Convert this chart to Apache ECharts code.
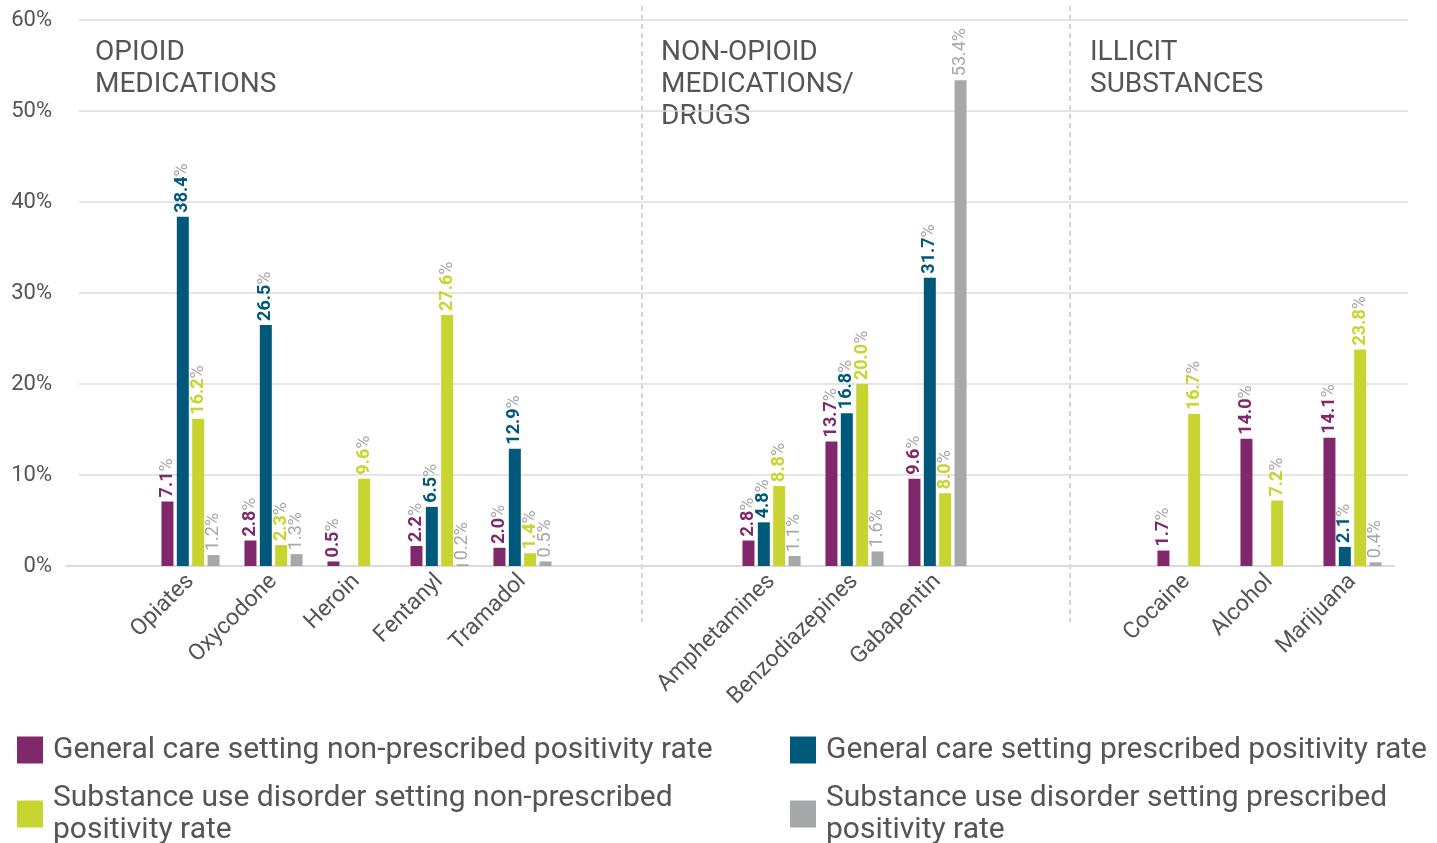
<!DOCTYPE html>
<html>
<head>
<meta charset="utf-8">
<script src="https://cdn.jsdelivr.net/npm/echarts@6/dist/echarts.min.js"></script>
<style>
  html, body { margin: 0; padding: 0; background: #fff; }
  #main { width: 1437px; height: 843px; }
</style>
</head>
<body>
<div id="main"></div>
<script>
// empty slots keep the three sections apart
var categories = ['', 'Opiates', 'Oxycodone', 'Heroin', 'Fentanyl', 'Tramadol', '', '',
    'Amphetamines', 'Benzodiazepines', 'Gabapentin', '', '', 'Cocaine', 'Alcohol', 'Marijuana'];

var generalNonPrescribed = [null, 7.1, 2.8, 0.5, 2.2, 2.0, null, null, 2.8, 13.7, 9.6, null, null, 1.7, 14.0, 14.1];
var generalPrescribed    = [null, 38.4, 26.5, null, 6.5, 12.9, null, null, 4.8, 16.8, 31.7, null, null, null, null, 2.1];
var sudNonPrescribed     = [null, 16.2, 2.3, 9.6, 27.6, 1.4, null, null, 8.8, 20.0, 8.0, null, null, 16.7, 7.2, 23.8];
var sudPrescribed        = [null, 1.2, 1.3, null, 0.2, 0.5, null, null, 1.1, 1.6, 53.4, null, null, null, null, 0.4];

var seriesNames = [
    'General care setting non-prescribed positivity rate',
    'General care setting prescribed positivity rate',
    'Substance use disorder setting non-prescribed positivity rate',
    'Substance use disorder setting prescribed positivity rate'
];
var sectionTitles = ['OPIOID\nMEDICATIONS', 'NON-OPIOID\nMEDICATIONS/\nDRUGS', 'ILLICIT\nSUBSTANCES'];
var yMax = 60, yStep = 10;

var colors = ['#80286b', '#00587b', '#c8d42f', '#a7a8aa'];
var textGrey = '#555';
var font = 'Roboto';

function barSeries(idx, data, boldValue) {
    var c = colors[idx];
    return {
        name: seriesNames[idx],
        type: 'bar',
        xAxisIndex: 0,
        yAxisIndex: 0,
        data: data,
        barWidth: 12,
        barGap: '28%',
        itemStyle: { color: c },
        label: {
            show: true,
            position: 'top',
            rotate: 90,
            align: 'left',
            verticalAlign: 'middle',
            distance: 4,
            formatter: function (p) {
                if (p.value == null) return '';
                return '{v|' + Number(p.value).toFixed(1) + '}{p|%}';
            },
            rich: {
                v: { color: c, fontSize: 18, fontFamily: font, fontWeight: boldValue ? 'bold' : 'normal' },
                p: { color: '#a7a8aa', fontSize: 18, fontFamily: font }
            }
        }
    };
}

var legendBase = {
    orient: 'horizontal',
    padding: 0,
    icon: 'rect',
    itemWidth: 26,
    itemHeight: 27,
    selectedMode: false,
    textStyle: { fontFamily: font, fontSize: 30, color: textGrey, lineHeight: 32, padding: [0, 0, 0, 5] }
};
function twoLine(name) { return name.replace(' positivity rate', '\npositivity rate'); }

var chart = echarts.init(document.getElementById('main'));

var option = {
    animation: false,
    grid: [
        { left: 66, top: 20.2, width: 1328, height: 545.8 },
        { left: 79, top: 20.2, width: 1329, height: 545.8 }
    ],
    xAxis: [
        {
            gridIndex: 0,
            type: 'category',
            data: categories,
            axisLine: { lineStyle: { color: '#dadada', width: 2 } },
            axisTick: { show: false },
            axisLabel: { interval: 0, rotate: 45, margin: 12, fontSize: 23, color: textGrey, fontFamily: font }
        },
        { gridIndex: 1, type: 'value', show: false, min: 0, max: 1 }
    ],
    yAxis: [
        {
            gridIndex: 0,
            type: 'value',
            min: 0,
            max: yMax,
            interval: yStep,
            axisLine: { show: false },
            axisTick: { show: false },
            splitLine: { show: false },
            axisLabel: { formatter: '{value}%', fontSize: 22, color: textGrey, fontFamily: font, margin: 14 }
        },
        {
            gridIndex: 1,
            type: 'value',
            min: 0,
            max: yMax,
            interval: yStep,
            axisLine: { show: false },
            axisTick: { show: false },
            axisLabel: { show: false },
            splitLine: { show: true, showMinLine: false, lineStyle: { color: '#dcdcdc', width: 1.5 } }
        }
    ],
    legend: [
        Object.assign({}, legendBase, { data: [seriesNames[0]], left: 17, top: 734 }),
        Object.assign({}, legendBase, { data: [seriesNames[1]], left: 790, top: 734 }),
        Object.assign({}, legendBase, { data: [seriesNames[2]], left: 17, top: 782, formatter: twoLine }),
        Object.assign({}, legendBase, { data: [seriesNames[3]], left: 790, top: 782, formatter: twoLine })
    ],
    graphic: [
        { type: 'line', shape: { x1: 642, y1: 6, x2: 642, y2: 622 }, style: { stroke: '#aaa', lineWidth: 1, lineDash: [5, 4] } },
        { type: 'line', shape: { x1: 1070, y1: 6, x2: 1070, y2: 622 }, style: { stroke: '#aaa', lineWidth: 1, lineDash: [5, 4] } },
        { type: 'text', left: 95, top: 37, style: { text: sectionTitles[0], font: '28px Roboto', fill: textGrey, lineHeight: 32 } },
        { type: 'text', left: 661, top: 37, style: { text: sectionTitles[1], font: '28px Roboto', fill: textGrey, lineHeight: 32 } },
        { type: 'text', left: 1090, top: 37, style: { text: sectionTitles[2], font: '28px Roboto', fill: textGrey, lineHeight: 32 } }
    ],
    series: [
        barSeries(0, generalNonPrescribed, true),
        barSeries(1, generalPrescribed, true),
        barSeries(2, sudNonPrescribed, true),
        barSeries(3, sudPrescribed, false)
    ]
};

chart.setOption(option);
</script>
</body>
</html>
